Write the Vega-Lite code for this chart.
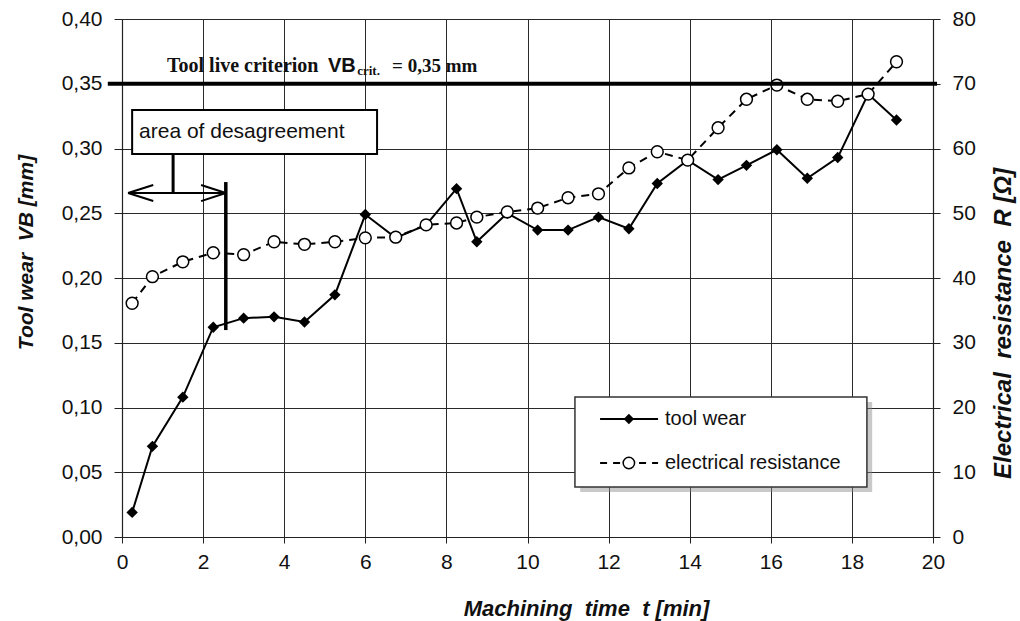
{
  "$schema": "https://vega.github.io/schema/vega-lite/v6.json",
  "width": 811,
  "height": 518,
  "autosize": {"type": "none"},
  "padding": {"left": 122, "top": 19, "right": 87, "bottom": 84},
  "background": "white",
  "config": {
    "view": {"stroke": null},
    "axis": {
      "labelFont": "Liberation Sans",
      "labelFontSize": 21,
      "labelColor": "#111",
      "tickColor": "#222",
      "domainColor": "#222",
      "domainWidth": 1.2,
      "gridColor": "#2a2a2a",
      "gridWidth": 1,
      "titleFont": "Liberation Sans",
      "titleFontSize": 21,
      "titleFontWeight": "bold",
      "titleFontStyle": "italic",
      "titleColor": "#111"
    }
  },
  "datasets": {
    "wear": [
      {"t": 0.25, "VB": 0.019, "R": 36.1},
      {"t": 0.75, "VB": 0.070, "R": 40.2},
      {"t": 1.5, "VB": 0.108, "R": 42.5},
      {"t": 2.25, "VB": 0.162, "R": 43.9},
      {"t": 3.0, "VB": 0.169, "R": 43.6},
      {"t": 3.75, "VB": 0.170, "R": 45.6},
      {"t": 4.5, "VB": 0.166, "R": 45.2},
      {"t": 5.25, "VB": 0.187, "R": 45.6},
      {"t": 6.0, "VB": 0.249, "R": 46.2},
      {"t": 6.75, "VB": 0.231, "R": 46.3},
      {"t": 7.5, "VB": 0.241, "R": 48.2},
      {"t": 8.25, "VB": 0.269, "R": 48.5},
      {"t": 8.75, "VB": 0.228, "R": 49.4},
      {"t": 9.5, "VB": 0.250, "R": 50.2},
      {"t": 10.25, "VB": 0.237, "R": 50.8},
      {"t": 11.0, "VB": 0.237, "R": 52.4},
      {"t": 11.75, "VB": 0.247, "R": 53.0},
      {"t": 12.5, "VB": 0.238, "R": 57.0},
      {"t": 13.2, "VB": 0.273, "R": 59.5},
      {"t": 13.95, "VB": 0.291, "R": 58.2},
      {"t": 14.7, "VB": 0.276, "R": 63.2},
      {"t": 15.4, "VB": 0.287, "R": 67.6},
      {"t": 16.15, "VB": 0.299, "R": 69.8},
      {"t": 16.9, "VB": 0.277, "R": 67.6},
      {"t": 17.65, "VB": 0.293, "R": 67.3},
      {"t": 18.4, "VB": 0.342, "R": 68.4},
      {"t": 19.1, "VB": 0.322, "R": 73.4}
    ]
  },
  "layer": [
    {
      "data": {"name": "wear"},
      "encoding": {
        "x": {
          "field": "t", "type": "quantitative",
          "scale": {"domain": [0, 20], "nice": false},
          "axis": {
            "values": [0, 2, 4, 6, 8, 10, 12, 14, 16, 18, 20],
            "grid": true,
            "tickSize": 6,
            "labelPadding": 8,
            "labelFlush": false,
            "title": "Machining\u00a0 time\u00a0 t [min]",
            "titleFontSize": 22,
            "titleX": 464,
            "titleY": 71,
            "titleAlign": "center",
            "titleBaseline": "middle"
          }
        },
        "y": {
          "field": "VB", "type": "quantitative",
          "scale": {"domain": [0, 0.4], "nice": false},
          "axis": {
            "values": [0, 0.05, 0.1, 0.15, 0.2, 0.25, 0.3, 0.35, 0.4],
            "grid": true,
            "tickSize": 8,
            "labelPadding": 12,
            "labelExpr": "replace(format(datum.value, '.2f'), '.', ',')",
            "title": "Tool wear\u00a0 VB [mm]",
            "titleX": -96,
            "titleY": 233,
            "titleAngle": 270,
            "titleAlign": "center",
            "titleBaseline": "middle"
          }
        }
      },
      "layer": [
        {"mark": {"type": "line", "color": "black", "strokeWidth": 2}},
        {"mark": {"type": "point", "shape": "diamond", "filled": true, "color": "black", "size": 130, "opacity": 1}}
      ]
    },
    {
      "data": {"name": "wear"},
      "encoding": {
        "x": {"field": "t", "type": "quantitative", "scale": {"domain": [0, 20], "nice": false}},
        "y": {
          "field": "R", "type": "quantitative",
          "scale": {"domain": [0, 80], "nice": false},
          "axis": {
            "orient": "right",
            "values": [0, 10, 20, 30, 40, 50, 60, 70, 80],
            "grid": false,
            "tickSize": 7,
            "labelPadding": 12,
            "title": "Electrical\u00a0 resistance\u00a0 R [\u03a9]",
            "titleFontSize": 24,
            "titleX": 70,
            "titleY": 304,
            "titleAngle": 270,
            "titleAlign": "center",
            "titleBaseline": "middle"
          }
        }
      },
      "layer": [
        {"mark": {"type": "line", "color": "black", "strokeWidth": 2, "strokeDash": [8, 6]}},
        {"mark": {"type": "point", "shape": "circle", "filled": true, "fill": "white", "stroke": "black", "strokeWidth": 1.5, "size": 140, "opacity": 1}}
      ]
    },
    {
      "data": {"values": [{}]},
      "layer": [
        {
          "mark": {"type": "rule", "color": "black", "strokeWidth": 4},
          "encoding": {
            "x": {"datum": -0.35, "type": "quantitative", "scale": {"domain": [0, 20], "nice": false}},
            "x2": {"datum": 20.1},
            "y": {"datum": 0.35, "type": "quantitative", "scale": {"domain": [0, 0.4], "nice": false}, "axis": null}
          }
        },
        {
          "mark": {"type": "text", "text": "Tool live criterion", "font": "Liberation Serif", "fontWeight": "bold", "fontSize": 20, "align": "left", "baseline": "alphabetic", "color": "#111"},
          "encoding": {"x": {"datum": 1.11, "type": "quantitative"}, "y": {"datum": 0.359, "type": "quantitative"}}
        },
        {
          "mark": {"type": "text", "text": "VB", "font": "Liberation Sans", "fontWeight": "bold", "fontSize": 20, "align": "left", "baseline": "alphabetic", "color": "#111"},
          "encoding": {"x": {"datum": 5.08, "type": "quantitative"}, "y": {"datum": 0.359, "type": "quantitative"}}
        },
        {
          "mark": {"type": "text", "text": "crit.", "font": "Liberation Serif", "fontWeight": "bold", "fontSize": 13, "align": "left", "baseline": "alphabetic", "color": "#111"},
          "encoding": {"x": {"datum": 5.8, "type": "quantitative"}, "y": {"datum": 0.357, "type": "quantitative"}}
        },
        {
          "mark": {"type": "text", "text": "= 0,35 mm", "font": "Liberation Serif", "fontWeight": "bold", "fontSize": 19, "align": "left", "baseline": "alphabetic", "color": "#111"},
          "encoding": {"x": {"datum": 6.66, "type": "quantitative"}, "y": {"datum": 0.359, "type": "quantitative"}}
        },
        {
          "mark": {"type": "rect", "fill": "white", "stroke": "black", "strokeWidth": 2},
          "encoding": {"x": {"datum": 0.25, "type": "quantitative"}, "x2": {"datum": 6.29}, "y": {"datum": 0.3297, "type": "quantitative"}, "y2": {"datum": 0.2958}}
        },
        {
          "mark": {"type": "text", "text": "area of desagreement", "font": "Liberation Sans", "fontSize": 21, "align": "left", "baseline": "middle", "color": "#111"},
          "encoding": {"x": {"datum": 0.42, "type": "quantitative"}, "y": {"datum": 0.3127, "type": "quantitative"}}
        },
        {
          "mark": {"type": "rule", "color": "black", "strokeWidth": 3},
          "encoding": {"x": {"datum": 1.26, "type": "quantitative"}, "y": {"datum": 0.2958, "type": "quantitative"}, "y2": {"datum": 0.2656}}
        },
        {
          "mark": {"type": "rule", "color": "black", "strokeWidth": 2},
          "encoding": {"x": {"datum": 0.15, "type": "quantitative"}, "x2": {"datum": 2.56}, "y": {"datum": 0.2656, "type": "quantitative"}}
        },
        {
          "mark": {"type": "rule", "color": "black", "strokeWidth": 2},
          "encoding": {"x": {"datum": 0.15, "type": "quantitative"}, "x2": {"datum": 0.77}, "y": {"datum": 0.2656, "type": "quantitative"}, "y2": {"datum": 0.2718}}
        },
        {
          "mark": {"type": "rule", "color": "black", "strokeWidth": 2},
          "encoding": {"x": {"datum": 0.15, "type": "quantitative"}, "x2": {"datum": 0.77}, "y": {"datum": 0.2656, "type": "quantitative"}, "y2": {"datum": 0.2594}}
        },
        {
          "mark": {"type": "rule", "color": "black", "strokeWidth": 2},
          "encoding": {"x": {"datum": 2.56, "type": "quantitative"}, "x2": {"datum": 1.95}, "y": {"datum": 0.2656, "type": "quantitative"}, "y2": {"datum": 0.2718}}
        },
        {
          "mark": {"type": "rule", "color": "black", "strokeWidth": 2},
          "encoding": {"x": {"datum": 2.56, "type": "quantitative"}, "x2": {"datum": 1.95}, "y": {"datum": 0.2656, "type": "quantitative"}, "y2": {"datum": 0.2594}}
        },
        {
          "mark": {"type": "rule", "color": "black", "strokeWidth": 3.5},
          "encoding": {"x": {"datum": 2.56, "type": "quantitative"}, "y": {"datum": 0.2741, "type": "quantitative"}, "y2": {"datum": 0.1598}}
        },
        {
          "mark": {"type": "rect", "fill": "#888", "opacity": 0.45},
          "encoding": {"x": {"datum": 11.3, "type": "quantitative"}, "x2": {"datum": 18.5}, "y": {"datum": 0.1043, "type": "quantitative"}, "y2": {"datum": 0.0347}}
        },
        {
          "mark": {"type": "rect", "fill": "white", "stroke": "#333", "strokeWidth": 1.5},
          "encoding": {"x": {"datum": 11.17, "type": "quantitative"}, "x2": {"datum": 18.37}, "y": {"datum": 0.1081, "type": "quantitative"}, "y2": {"datum": 0.0386}}
        },
        {
          "mark": {"type": "rule", "color": "black", "strokeWidth": 2},
          "encoding": {"x": {"datum": 11.79, "type": "quantitative"}, "x2": {"datum": 13.22}, "y": {"datum": 0.0911, "type": "quantitative"}}
        },
        {
          "mark": {"type": "point", "shape": "diamond", "filled": true, "color": "black", "size": 110, "opacity": 1},
          "encoding": {"x": {"datum": 12.5, "type": "quantitative"}, "y": {"datum": 0.0911, "type": "quantitative"}}
        },
        {
          "mark": {"type": "text", "text": "tool wear", "font": "Liberation Sans", "fontSize": 20, "align": "left", "baseline": "middle", "color": "#111"},
          "encoding": {"x": {"datum": 13.39, "type": "quantitative"}, "y": {"datum": 0.0911, "type": "quantitative"}}
        },
        {
          "mark": {"type": "rule", "color": "black", "strokeWidth": 2, "strokeDash": [7, 6]},
          "encoding": {"x": {"datum": 11.79, "type": "quantitative"}, "x2": {"datum": 13.22}, "y": {"datum": 0.0571, "type": "quantitative"}}
        },
        {
          "mark": {"type": "point", "shape": "circle", "filled": true, "fill": "white", "stroke": "black", "strokeWidth": 1.5, "size": 130, "opacity": 1},
          "encoding": {"x": {"datum": 12.5, "type": "quantitative"}, "y": {"datum": 0.0571, "type": "quantitative"}}
        },
        {
          "mark": {"type": "text", "text": "electrical resistance", "font": "Liberation Sans", "fontSize": 20, "align": "left", "baseline": "middle", "color": "#111"},
          "encoding": {"x": {"datum": 13.39, "type": "quantitative"}, "y": {"datum": 0.0571, "type": "quantitative"}}
        }
      ]
    }
  ],
  "resolve": {"scale": {"y": "independent"}}
}
